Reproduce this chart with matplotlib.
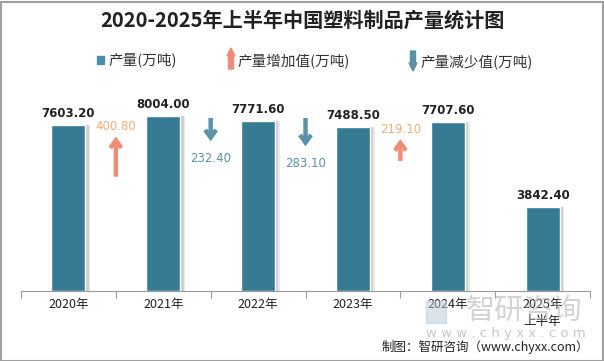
import matplotlib
matplotlib.use("Agg")
import matplotlib.pyplot as plt
from matplotlib.patches import Rectangle, FancyArrow
import numpy as np

plt.rcParams['font.family'] = ['Noto Sans CJK SC', 'DejaVu Sans']

categories = ["2020年", "2021年", "2022年", "2023年", "2024年", "2025年\n上半年"]
output = [7603.20, 8004.00, 7771.60, 7488.50, 7707.60, 3842.40]
changes = [400.80, -232.40, -283.10, 219.10]  # between consecutive full years

bar_color = "#367B93"
up_color = "#F08C76"
up_text = "#F5AE78"
down_color = "#5A93A8"
down_text = "#5A93A8"

fig = plt.figure(figsize=(6.04, 3.61), dpi=100)
ax = fig.add_axes([21/604, 1-291/361, (590-21)/604, (291-94)/361])
x = np.arange(len(categories))
ax.set_xlim(-0.5, len(categories) - 0.5)
ax.set_ylim(0, 9000)
upp = 9000 / 197.0  # data units per pixel

# shadows
for off, a in [(0.035, 0.55), (0.05, 0.3)]:
    ax.bar(x + off, output, width=0.36, color="#b8b8b8", zorder=1, alpha=a, linewidth=0)
ax.bar(x, output, width=0.36, color=bar_color, edgecolor="white", linewidth=1.0, zorder=2)
for xi, v in zip(x, output):
    ax.text(xi, v + 5 * upp, f"{v:.2f}", ha="center", va="bottom", fontsize=8.5,
            fontweight="bold", color="#222222", family=["DejaVu Sans"])

# change arrows
arrow_kw = dict(arrowstyle="->,head_length=0.55,head_width=0.4", lw=3.2,
                shrinkA=0, shrinkB=0, capstyle="butt", joinstyle="miter")
for i, d in enumerate(changes):
    xp = i + 0.5
    lo = min(output[i], output[i + 1])
    length = abs(d) * 0.1 * upp
    if d > 0:
        head = lo - 12 * upp
        ax.annotate("", xy=(xp, head), xytext=(xp, head - length),
                    arrowprops=dict(color=up_color, **arrow_kw))
        ax.text(xp, head + 10 * upp, f"{d:.2f}", ha="center", va="center", fontsize=8.5,
                color=up_text, family=["DejaVu Sans"])
    else:
        tail = max(output) - 100
        ax.annotate("", xy=(xp, tail - length), xytext=(xp, tail),
                    arrowprops=dict(color=down_color, **arrow_kw))
        ax.text(xp, tail - length - 17 * upp, f"{abs(d):.2f}", ha="center", va="center",
                fontsize=8.5, color=down_text, family=["DejaVu Sans"])

# axes styling
for s in ["top", "right", "left"]:
    ax.spines[s].set_visible(False)
ax.spines["bottom"].set_color("#999999")
ax.set_yticks([])
ax.set_xticks(np.arange(len(categories) + 1) - 0.5)
ax.set_xticklabels([])
ax.tick_params(axis="x", length=5, color="#999999", direction="out")
for xi, c in zip(x, categories):
    ax.text(xi, -7 * upp, c, ha="center", va="top", fontsize=9, color="#222222",
            linespacing=1.45)

# title
fig.text(0.5, 1 - 20/361, "2020-2025年上半年中国塑料制品产量统计图", ha="center", va="center",
         fontsize=14.5, fontweight="bold", color="#222222")

# legend
ly = 1 - 60/361
fig.patches.append(Rectangle((97/604, ly - 4/361), 7/604, 8/361, transform=fig.transFigure,
                             color="#4A8FA8"))
fig.text(108/604, ly, "产量(万吨)", ha="left", va="center", fontsize=10.5, color="#333333")
fig.patches.append(FancyArrow(231/604, 1 - 69/361, 0, 21/361, width=3/361, head_width=8/604,
                              head_length=8/361, transform=fig.transFigure, color=up_color,
                              length_includes_head=True))
fig.text(237/604, 1 - 62/361, "产量增加值(万吨)", ha="left", va="center", fontsize=10.5,
         color="#333333")
fig.patches.append(FancyArrow(413/604, 1 - 51/361, 0, -20/361, width=3/361, head_width=8/604,
                              head_length=8/361, transform=fig.transFigure, color=down_color,
                              length_includes_head=True))
fig.text(420/604, 1 - 62/361, "产量减少值(万吨)", ha="left", va="center", fontsize=10.5,
         color="#333333")

# watermark
fig.text(466/604, 1 - 311/361, "智研咨询", ha="left", va="center", fontsize=21,
         color="#b0b0b0", alpha=0.55)
fig.patches.append(Rectangle((426/604, 1 - 323/361), 20/604, 22/361, transform=fig.transFigure,
                             color="#b8c8d8", alpha=0.5))
fig.text(426/604, 1 - 333/361, "w w w . c h y x x . c o m", ha="left", va="center",
         fontsize=9.5, color="#b0b0b0", alpha=0.7, family=["DejaVu Sans"])

# source
fig.text(589/604, 1 - 347/361, "制图：智研咨询（www.chyxx.com）", ha="right", va="center",
         fontsize=9, color="#222222")

# frame
fig.patches.append(Rectangle((0.5/604, 0.5/361), 602/604, 359/361, transform=fig.transFigure,
                             fill=False, edgecolor="#a0a0a0", linewidth=1.5))

fig.savefig("out.png", dpi=100)
